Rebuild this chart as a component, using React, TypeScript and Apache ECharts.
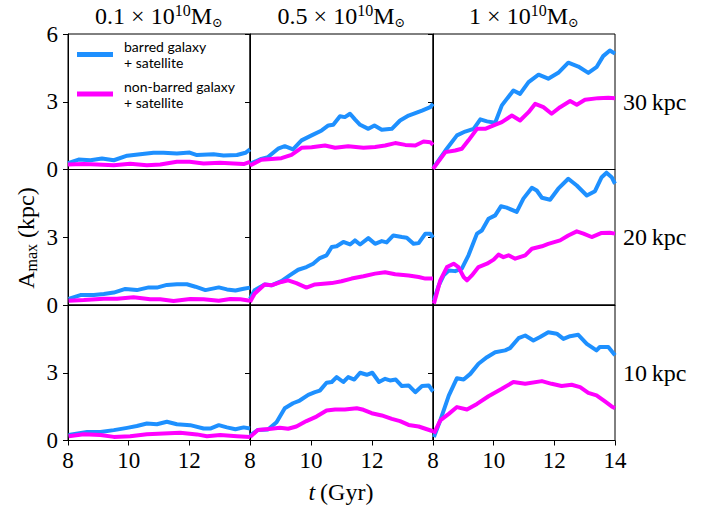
import React, { useEffect, useRef } from 'react';
import * as echarts from 'echarts';

// ---------- data (t in Gyr, A_max in kpc) ----------
const MASS_LABELS = ['0.1', '0.5', '1'];
const RADIUS_LABELS = ['30', '20', '10'];
const X_TICKS = [8, 10, 12, 14];
const Y_TICKS = [0, 3, 6];
const BARRED_NAME = 'barred galaxy\n+ satellite';
const NONBARRED_NAME = 'non-barred galaxy\n+ satellite';

// 30 kpc row
const barred_01_30 = [[8.0,0.28],[8.35,0.44],[8.74,0.41],[9.12,0.49],[9.51,0.41],[9.95,0.61],[10.38,0.68],[10.82,0.74],[11.15,0.74],[11.59,0.71],[12.01,0.75],[12.25,0.64],[12.8,0.68],[13.13,0.62],[13.57,0.64],[13.85,0.74],[14.0,0.89]];
const nonbarred_01_30 = [[8.0,0.22],[8.52,0.24],[8.96,0.22],[9.51,0.19],[10.05,0.25],[10.6,0.19],[11.04,0.22],[11.59,0.34],[12.01,0.34],[12.47,0.27],[13.02,0.3],[13.46,0.27],[13.79,0.24],[14.0,0.34]];
const barred_05_30 = [[8.0,0.25],[8.37,0.47],[8.59,0.55],[8.92,0.92],[9.14,1.03],[9.41,0.89],[9.69,1.29],[10.02,1.51],[10.35,1.73],[10.57,1.95],[10.73,1.98],[10.95,2.36],[11.11,2.32],[11.28,2.47],[11.44,2.22],[11.61,1.98],[11.88,1.8],[12.08,1.95],[12.32,1.76],[12.65,1.8],[12.92,2.17],[13.2,2.39],[13.42,2.5],[13.64,2.61],[13.91,2.76],[14.0,2.91]];
const nonbarred_05_30 = [[8.0,0.18],[8.37,0.43],[8.7,0.47],[9.03,0.5],[9.36,0.65],[9.69,0.96],[10.02,0.99],[10.46,1.06],[10.79,0.96],[11.22,1.03],[11.72,0.96],[12.1,1.0],[12.43,1.06],[12.76,1.17],[13.09,1.09],[13.42,1.06],[13.69,1.24],[13.91,1.21],[14.0,1.09]];
const barred_1_30 = [[8.03,0.1],[8.41,0.84],[8.79,1.51],[9.06,1.68],[9.34,1.8],[9.56,2.22],[9.78,2.13],[10.05,2.07],[10.27,2.84],[10.65,3.5],[10.87,3.35],[11.15,3.87],[11.48,4.2],[11.8,4.02],[12.13,4.28],[12.46,4.73],[12.79,4.56],[13.12,4.28],[13.39,4.53],[13.61,5.02],[13.83,5.27],[14.0,5.13]];
const nonbarred_1_30 = [[8.0,0.03],[8.41,0.77],[8.73,0.84],[8.95,0.92],[9.17,1.29],[9.45,1.8],[9.72,1.8],[10.0,1.95],[10.27,2.1],[10.6,2.39],[10.87,2.17],[11.15,2.54],[11.37,2.91],[11.64,2.76],[11.91,2.47],[12.19,2.76],[12.52,3.03],[12.74,2.87],[13.01,3.09],[13.45,3.16],[13.78,3.18],[14.0,3.16]];

// 20 kpc row
const barred_01_20 = [[8.02,0.27],[8.41,0.44],[8.85,0.44],[9.18,0.49],[9.51,0.55],[9.89,0.71],[10.27,0.66],[10.66,0.78],[10.93,0.77],[11.26,0.89],[11.59,0.92],[11.92,0.92],[12.2,0.81],[12.53,0.66],[12.97,0.78],[13.24,0.69],[13.52,0.64],[13.79,0.72],[14.0,0.77]];
const nonbarred_01_20 = [[8.02,0.19],[8.52,0.22],[9.18,0.28],[9.62,0.28],[10.16,0.34],[10.71,0.25],[11.04,0.25],[11.48,0.18],[12.03,0.27],[12.47,0.25],[12.97,0.19],[13.35,0.27],[13.68,0.25],[14.0,0.19]];
const barred_05_20 = [[8.0,0.28],[8.15,0.65],[8.48,0.91],[8.7,0.87],[9.03,1.06],[9.3,1.31],[9.58,1.56],[9.85,1.68],[10.07,1.83],[10.29,2.08],[10.51,2.2],[10.68,2.57],[10.84,2.6],[11.06,2.79],[11.28,2.68],[11.44,2.86],[11.61,2.68],[11.88,2.96],[12.1,2.71],[12.32,2.83],[12.48,2.77],[12.7,3.08],[12.98,3.01],[13.14,2.98],[13.36,2.71],[13.53,2.74],[13.75,3.16],[13.91,3.16],[14.0,2.98]];
const nonbarred_05_20 = [[8.0,0.13],[8.15,0.5],[8.48,0.91],[8.7,0.87],[9.03,1.02],[9.25,1.09],[9.52,0.97],[9.85,0.77],[10.13,0.91],[10.68,0.97],[11.0,1.05],[11.33,1.17],[11.72,1.27],[12.1,1.39],[12.43,1.45],[12.76,1.36],[13.2,1.31],[13.53,1.24],[13.75,1.17],[14.0,1.17]];
const barred_1_20 = [[8.03,0.2],[8.19,0.87],[8.35,1.31],[8.52,1.53],[8.73,1.5],[8.95,1.61],[9.17,2.2],[9.45,3.16],[9.61,3.3],[9.83,3.82],[10.05,3.97],[10.24,4.37],[10.43,4.31],[10.76,4.12],[10.98,4.71],[11.26,5.19],[11.42,5.07],[11.59,4.75],[11.86,4.66],[12.13,5.15],[12.46,5.59],[12.74,5.29],[13.07,4.85],[13.34,5.04],[13.56,5.66],[13.72,5.86],[13.89,5.66],[14.0,5.37]];
const nonbarred_1_20 = [[8.03,0.06],[8.24,1.09],[8.46,1.68],[8.68,1.83],[8.84,1.68],[9.01,1.24],[9.12,1.09],[9.28,1.31],[9.5,1.68],[9.78,1.83],[10.0,2.01],[10.16,2.23],[10.32,2.12],[10.49,2.2],[10.71,2.05],[11.04,2.2],[11.26,2.49],[11.59,2.6],[11.8,2.71],[12.19,2.86],[12.46,3.08],[12.74,3.26],[12.96,3.16],[13.23,3.01],[13.56,3.19],[13.83,3.2],[14.0,3.16]];

// 10 kpc row
const barred_01_10 = [[8.02,0.24],[8.63,0.38],[9.07,0.38],[9.51,0.46],[9.95,0.56],[10.27,0.64],[10.6,0.75],[10.93,0.72],[11.26,0.83],[11.59,0.72],[12.03,0.68],[12.47,0.53],[12.69,0.53],[12.97,0.68],[13.24,0.58],[13.52,0.5],[13.79,0.58],[14.0,0.53]];
const nonbarred_01_10 = [[8.02,0.19],[8.52,0.28],[9.07,0.24],[9.51,0.16],[10.05,0.19],[10.6,0.28],[11.15,0.31],[11.7,0.34],[12.25,0.27],[12.58,0.19],[13.02,0.24],[13.57,0.19],[14.0,0.16]];
const barred_05_10 = [[8.0,0.22],[8.26,0.47],[8.59,0.49],[8.87,0.81],[9.14,1.43],[9.41,1.65],[9.63,1.77],[9.91,2.02],[10.13,2.14],[10.29,2.21],[10.51,2.56],[10.68,2.59],[10.84,2.81],[11.06,2.59],[11.22,2.81],[11.42,2.7],[11.61,3.0],[11.83,2.91],[12.01,3.0],[12.23,2.59],[12.43,2.73],[12.59,2.66],[12.78,2.7],[12.98,2.41],[13.2,2.44],[13.42,2.14],[13.64,2.41],[13.86,2.44],[14.0,2.17]];
const nonbarred_05_10 = [[8.0,0.15],[8.26,0.47],[8.7,0.52],[8.98,0.56],[9.25,0.52],[9.52,0.62],[9.85,0.86],[10.18,1.06],[10.51,1.33],[10.79,1.37],[11.11,1.37],[11.5,1.43],[11.72,1.36],[11.99,1.21],[12.32,1.11],[12.65,0.96],[12.92,0.86],[13.2,0.69],[13.53,0.62],[13.75,0.52],[14.0,0.41]];
const barred_1_10 = [[8.03,0.15],[8.24,0.89],[8.52,1.99],[8.79,2.76],[9.01,2.7],[9.23,2.95],[9.5,3.4],[9.78,3.69],[10.05,3.91],[10.38,3.99],[10.54,4.09],[10.82,4.53],[11.04,4.65],[11.31,4.43],[11.53,4.58],[11.8,4.79],[12.08,4.73],[12.3,4.5],[12.52,4.62],[12.79,4.68],[13.07,4.28],[13.39,3.99],[13.5,4.14],[13.78,4.14],[14.0,3.77]];
const nonbarred_1_10 = [[8.03,0.3],[8.24,0.89],[8.52,1.18],[8.79,1.48],[9.12,1.37],[9.45,1.62],[9.83,1.96],[10.27,2.29],[10.65,2.59],[11.04,2.51],[11.59,2.63],[11.91,2.51],[12.24,2.41],[12.57,2.47],[12.85,2.36],[13.12,2.11],[13.39,2.0],[13.67,1.73],[13.89,1.51],[14.0,1.43]];

const BARRED = [
  [barred_01_30, barred_05_30, barred_1_30],
  [barred_01_20, barred_05_20, barred_1_20],
  [barred_01_10, barred_05_10, barred_1_10],
];
const NONBARRED = [
  [nonbarred_01_30, nonbarred_05_30, nonbarred_1_30],
  [nonbarred_01_20, nonbarred_05_20, nonbarred_1_20],
  [nonbarred_01_10, nonbarred_05_10, nonbarred_1_10],
];

// ---------- layout / style ----------
const SERIF = 'Liberation Serif, DejaVu Serif, serif';
const SANS = 'Lato, Open Sans, sans-serif';
const BLUE = '#1E90FF';
const MAGENTA = '#FF00FF';
const COL_LEFT = [68, 250, 433];
const COL_WIDTH = [182, 183, 182];
const ROW_TOP = [34, 169.5, 305];
const ROW_HEIGHT = 135.5;
const TICK_FONT = 23;

let measureCtx: CanvasRenderingContext2D | null = null;
function textWidth(t: string, size: number, family: string, style = 'normal') {
  if (!measureCtx) measureCtx = document.createElement('canvas').getContext('2d');
  if (!measureCtx) return t.length * size * 0.5;
  measureCtx.font = `${style} ${size}px ${family}`;
  return measureCtx.measureText(t).width;
}

type Part = { text: string; size: number; dy: number; italic?: boolean };

function partsChildren(parts: Part[]) {
  const widths = parts.map((p) => textWidth(p.text, p.size, SERIF, p.italic ? 'italic' : 'normal'));
  const total = widths.reduce((a, b) => a + b, 0);
  let x = -total / 2;
  return parts.map((p, i) => {
    const el = {
      type: 'text',
      x,
      y: p.dy,
      silent: true,
      style: {
        text: p.text,
        fontSize: p.size,
        fontFamily: SERIF,
        fontStyle: p.italic ? 'italic' : 'normal',
        fill: '#000',
        align: 'left',
        textAlign: 'left',
        verticalAlign: 'middle',
        textVerticalAlign: 'middle',
      },
    };
    x += widths[i];
    return el;
  });
}

function buildOption() {
  const grid: any[] = [];
  const xAxis: any[] = [];
  const yAxis: any[] = [];
  const series: any[] = [];
  for (let r = 0; r < 3; r++) {
    for (let c = 0; c < 3; c++) {
      const p = r * 3 + c;
      grid.push({
        left: COL_LEFT[c],
        top: ROW_TOP[r],
        width: COL_WIDTH[c],
        height: ROW_HEIGHT,
        show: true,
        borderColor: '#000',
        borderWidth: 1,
        backgroundColor: 'transparent',
        containLabel: false,
      });
      xAxis.push({
        gridIndex: p,
        type: 'value',
        min: X_TICKS[0],
        max: X_TICKS[X_TICKS.length - 1],
        interval: 2,
        axisLine: { show: true, onZero: false, lineStyle: { color: '#000', width: 1 } },
        axisTick: { show: r === 2, inside: false, length: 5, lineStyle: { color: '#000', width: 1 } },
        axisLabel: {
          show: r === 2,
          showMinLabel: true,
          showMaxLabel: c === 2,
          margin: 8,
          fontSize: TICK_FONT,
          fontFamily: SERIF,
          color: '#000',
        },
        splitLine: { show: false },
      });
      yAxis.push({
        gridIndex: p,
        type: 'value',
        min: Y_TICKS[0],
        max: Y_TICKS[Y_TICKS.length - 1],
        interval: 3,
        axisLine: { show: true, onZero: false, lineStyle: { color: '#000', width: 1 } },
        axisTick: { show: true, inside: false, length: 5, lineStyle: { color: '#000', width: 1 } },
        axisLabel: {
          show: c === 0,
          showMinLabel: true,
          showMaxLabel: r === 0,
          margin: 10,
          fontSize: TICK_FONT,
          fontFamily: SERIF,
          color: '#000',
        },
        splitLine: { show: false },
      });
      series.push({
        type: 'line',
        name: BARRED_NAME,
        xAxisIndex: p,
        yAxisIndex: p,
        data: BARRED[r][c],
        showSymbol: false,
        symbol: 'none',
        silent: true,
        z: 3,
        lineStyle: { color: BLUE, width: 4, join: 'round', cap: 'butt' },
        itemStyle: { color: BLUE },
      });
      series.push({
        type: 'line',
        name: NONBARRED_NAME,
        xAxisIndex: p,
        yAxisIndex: p,
        data: NONBARRED[r][c],
        showSymbol: false,
        symbol: 'none',
        silent: true,
        z: 4,
        lineStyle: { color: MAGENTA, width: 4, join: 'round', cap: 'butt' },
        itemStyle: { color: MAGENTA },
      });
    }
  }

  const graphic: any[] = [];
  // column titles
  for (let c = 0; c < 3; c++) {
    graphic.push({
      type: 'group',
      x: COL_LEFT[c] + COL_WIDTH[c] / 2,
      y: 16,
      children: partsChildren([
        { text: `${MASS_LABELS[c]} × 10`, size: 24, dy: 0 },
        { text: '10', size: 16, dy: -5.5 },
        { text: 'M', size: 24, dy: 0 },
        { text: '⊙', size: 13, dy: 6 },
      ]),
    });
  }
  // row labels on the right
  for (let r = 0; r < 3; r++) {
    graphic.push({
      type: 'text',
      x: 623,
      y: ROW_TOP[r] + ROW_HEIGHT / 2,
      silent: true,
      style: {
        text: `${RADIUS_LABELS[r]}\u2009kpc`,
        fontSize: 24,
        fontFamily: SERIF,
        fill: '#000',
        align: 'left',
        textAlign: 'left',
        verticalAlign: 'middle',
        textVerticalAlign: 'middle',
      },
    });
  }
  // y axis label
  graphic.push({
    type: 'group',
    x: 26,
    y: 238,
    rotation: Math.PI / 2,
    children: partsChildren([
      { text: 'A', size: 24, dy: 0 },
      { text: 'max', size: 16, dy: 5 },
      { text: ' (kpc)', size: 24, dy: 0 },
    ]),
  });
  // x axis label
  graphic.push({
    type: 'group',
    x: 341,
    y: 492,
    children: partsChildren([
      { text: 't', size: 24, dy: 0, italic: true },
      { text: '\u2009(Gyr)', size: 24, dy: 0 },
    ]),
  });
  // legend
  const legendItems = [
    { name: BARRED_NAME, color: BLUE, y: 54.5 },
    { name: NONBARRED_NAME, color: MAGENTA, y: 94 },
  ];
  legendItems.forEach((it) => {
    graphic.push({
      type: 'rect',
      silent: true,
      shape: { x: 77, y: it.y - 2.5, width: 36, height: 5 },
      style: { fill: it.color },
    });
    graphic.push({
      type: 'text',
      x: 124,
      y: it.y,
      silent: true,
      style: {
        text: it.name,
        fontSize: 14,
        fontFamily: SANS,
        lineHeight: 16,
        fill: '#000',
        align: 'left',
        textAlign: 'left',
        verticalAlign: 'middle',
        textVerticalAlign: 'middle',
      },
    });
  });

  return {
    animation: false,
    backgroundColor: '#fff',
    grid,
    xAxis,
    yAxis,
    series,
    graphic,
  };
}

export default function App() {
  const ref = useRef<HTMLDivElement>(null);
  useEffect(() => {
    if (!ref.current) return;
    const chart = echarts.init(ref.current, undefined, { renderer: 'svg' });
    chart.setOption(buildOption() as any);
    return () => chart.dispose();
  }, []);
  return (
    <div
      ref={ref}
      style={{ position: 'absolute', left: 0, top: 0, width: 716, height: 512 }}
    />
  );
}
